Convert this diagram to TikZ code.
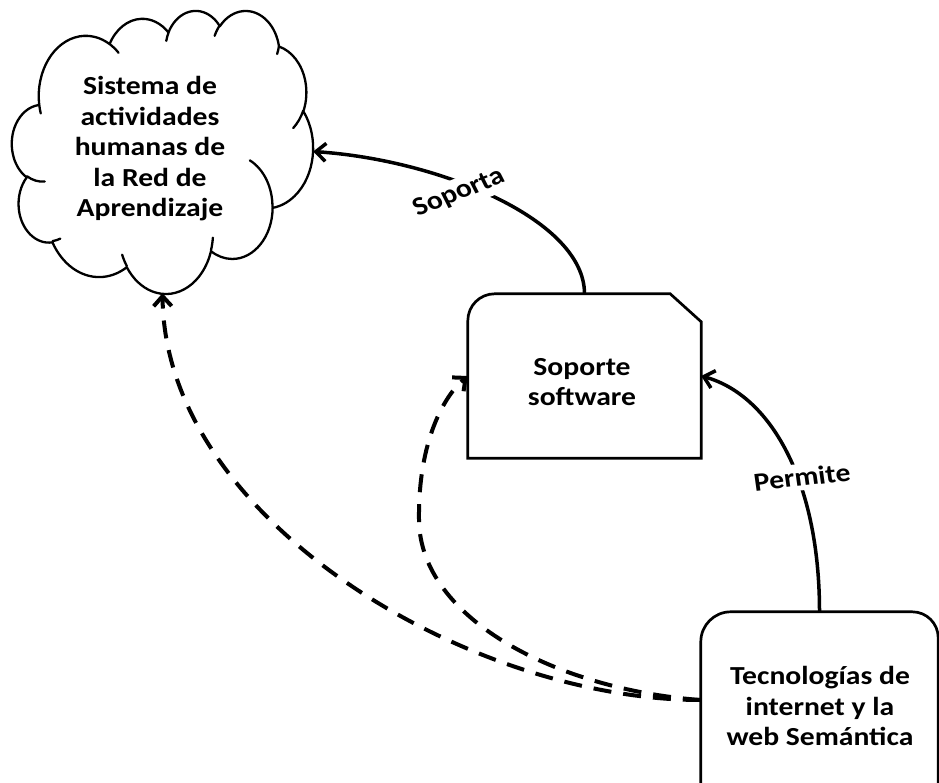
\documentclass[tikz,border=0pt]{standalone}
\usepackage{fontspec}
\setmainfont{Carlito}
\usetikzlibrary{arrows.meta,calc}

% Elliptic arc in DrawingML style: radii #1,#2, start angle #3, sweep #4
% (angles are geometric, measured from the ellipse centre)
\newcommand\ooarc[4]{%
  \pgfmathsetmacro\ooS{atan2(sin(#3)*#1, cos(#3)*#2)}%
  \pgfmathsetmacro\ooT{atan2(sin(#3+#4)*#1, cos(#3+#4)*#2)}%
  \pgfmathsetmacro\ooD{\ooT-\ooS}%
  \pgfmathsetmacro\ooD{\ooD-360*round((\ooD-(#4))/360)}%
  \pgfmathsetmacro\ooT{\ooS+\ooD}%
  \pgfpatharcaxes{\ooS}{\ooT}{\pgfpointxy{#1}{0}}{\pgfpointxy{0}{#2}}%
}

\tikzset{
  frame/.style={inner sep=0pt, draw=none},
  txt/.style={font=\bfseries\fontsize{26}{30.5}\selectfont, align=center, inner sep=0pt, xscale=1.14},
  lbl/.style={font=\bfseries\fontsize{26}{30}\selectfont, fill=white, inner sep=4pt, xscale=1.14},
  boxline/.style={line width=2.7pt, line join=miter},
  conn/.style={line width=3.5pt, -{Straight Barb[length=10pt,width=18pt]}},
  dconn/.style={line width=4pt, dash pattern=on 18pt off 12pt,
                -{Straight Barb[length=10pt,width=18pt]}},
}

\begin{document}
\begin{tikzpicture}[x=1pt,y=-1pt]
\useasboundingbox (0,0) rectangle (939,783);
\clip (0,0) rectangle (939,783);

% ---------- cloud ----------
\node[frame, minimum width=301pt, minimum height=283pt] (cloud) at (162.5,151.5) {};
\begin{scope}[shift={(12,10)}, x=0.6968pt, y=-0.6551pt, line width=2.3pt, line join=round, line cap=round]
  \pgfpathmoveto{\pgfpointxy{39.00}{143.70}}
  \ooarc{67.53}{91.90}{-190.4875}{123.7805}
  \ooarc{53.33}{72.67}{-144.1024}{89.9452}
  \ooarc{43.65}{59.45}{-145.8079}{99.7230}
  \ooarc{48.57}{65.95}{-130.9861}{117.2417}
  \ooarc{53.33}{72.73}{-78.7089}{109.0269}
  \ooarc{67.75}{92.20}{-46.2673}{130.2690}
  \ooarc{57.85}{78.67}{0.6250}{114.0333}
  \ooarc{67.52}{92.15}{22.4516}{115.1726}
  \ooarc{77.20}{105.43}{66.2426}{75.7110}
  \ooarc{43.60}{59.18}{-274.9421}{146.7356}
  \ooarc{43.45}{59.45}{-246.8285}{152.5189}
  \pgfpathclose
  % inner curls of the puffs
  \pgfpathmoveto{\pgfpointxy{46.93}{261.77}}\ooarc{43.45}{59.45}{86.7420}{26.4295}
  \pgfpathmoveto{\pgfpointxy{69.28}{348.99}}\ooarc{43.60}{59.18}{73.6105}{11.4475}
  \pgfpathmoveto{\pgfpointxy{164.78}{390.90}}\ooarc{67.52}{92.15}{137.6242}{14.0811}
  \pgfpathmoveto{\pgfpointxy{288.27}{347.51}}\ooarc{67.52}{92.15}{6.4533}{15.9984}
  \pgfpathmoveto{\pgfpointxy{341.29}{229.54}}\ooarc{57.85}{78.67}{-70.2924}{70.9174}
  \pgfpathmoveto{\pgfpointxy{417.98}{153.54}}\ooarc{53.33}{72.73}{30.3180}{27.7515}
  \pgfpathmoveto{\pgfpointxy{383.24}{54.26}}\ooarc{48.57}{65.95}{13.7443}{14.8589}
  \pgfpathmoveto{\pgfpointxy{290.78}{39.52}}\ooarc{48.57}{65.95}{-149.1815}{18.1954}
  \pgfpathmoveto{\pgfpointxy{221.41}{47.20}}\ooarc{43.65}{59.45}{-163.4943}{17.6864}
  \pgfpathmoveto{\pgfpointxy{140.00}{51.92}}\ooarc{67.53}{91.90}{-66.7070}{12.3194}
  \pgfpathmoveto{\pgfpointxy{41.27}{157.89}}\ooarc{67.53}{91.90}{157.6544}{11.8582}
  \pgfusepath{stroke}
\end{scope}
\node[txt] (cloudtext) at (150,149) {Sistema de\\actividades\\humanas de\\la Red de\\Aprendizaje};

% ---------- software box ----------
\node[frame, minimum width=233pt, minimum height=164pt] (sw) at (584.5,376) {};
\draw[boxline] (sw.south west) -- ($(sw.north west)+(0,27)$)
  .. controls ($(sw.north west)+(0,12)$) and ($(sw.north west)+(12,0)$) .. ($(sw.north west)+(27,0)$)
  -- ($(sw.north east)+(-31,0)$) -- ($(sw.north east)+(0,28)$) -- (sw.south east) -- cycle;
\node[txt] (swtext) at (582,382) {Soporte\\software};

% ---------- technology box ----------
\node[frame, minimum width=237pt, minimum height=188pt] (tech) at (819.5,706) {};
\draw[boxline] (tech.south west) -- ($(tech.north west)+(0,30)$)
  .. controls ($(tech.north west)+(0,13.4)$) and ($(tech.north west)+(13.4,0)$) .. ($(tech.north west)+(30,0)$)
  -- ($(tech.north east)+(-26,0)$)
  .. controls ($(tech.north east)+(-11.6,0)$) and ($(tech.north east)+(0,11.6)$) .. ($(tech.north east)+(0,26)$)
  -- (tech.south east);
\node[txt] (techtext) at (820,706) {Tecnologías de\\internet y la\\web Semántica};

% ---------- connectors ----------
\draw[conn] (sw.north) .. controls (584.5,220) and (440,160) .. (cloud.east);
\node[lbl, rotate=24] (soporta) at (459,193) {Soporta};

\draw[conn] (tech.north) .. controls (819.5,480) and (770,395) .. (sw.east);
\node[lbl, rotate=7] (permite) at (802,477) {Permite};

\draw[dconn] ($(tech.west)+(0,-6)$) .. controls (470,700) and (165,520) .. (cloud.south);
\draw[dconn] ($(tech.west)+(0,-6)$) .. controls (560,690) and (420,620) .. (419,520)
  .. controls (418,440) and (445,395) .. (sw.west);
\end{tikzpicture}
\end{document}
